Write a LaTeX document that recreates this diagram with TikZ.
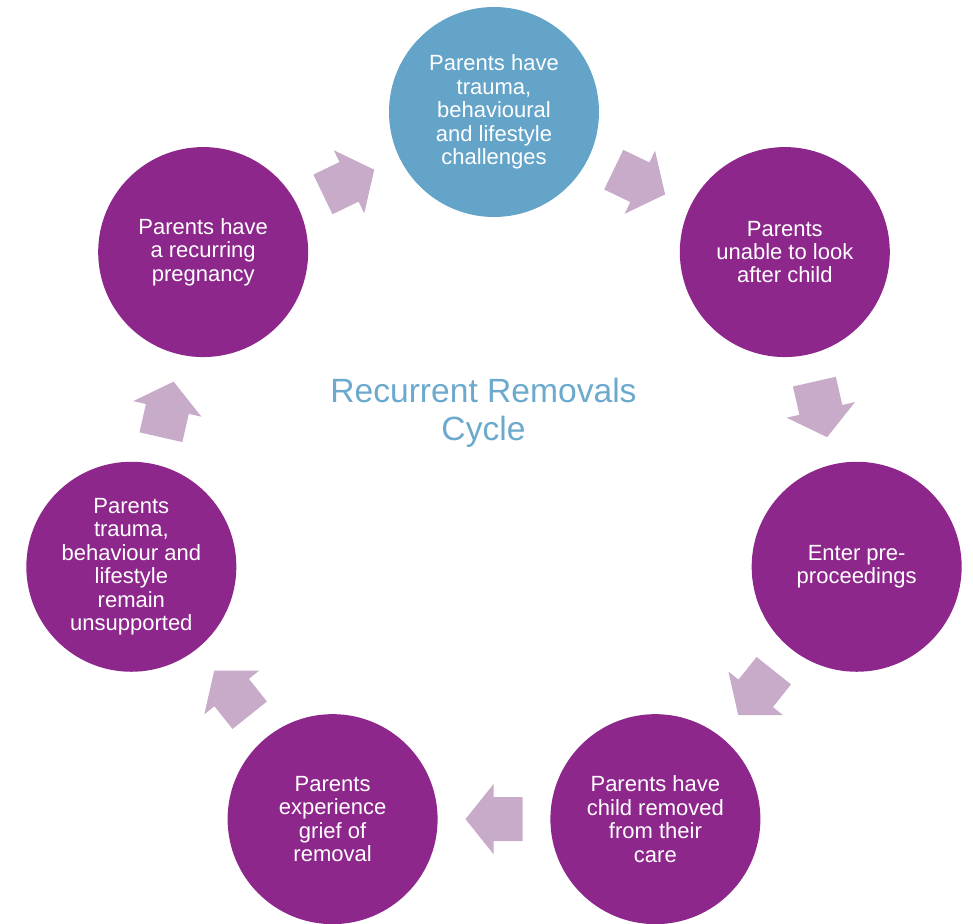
\documentclass[tikz,border=0pt]{standalone}
\usepackage{fontspec}
\setmainfont{Liberation Sans}
\usetikzlibrary{calc}
\definecolor{cpurple}{HTML}{8E278C}
\definecolor{cblue}{HTML}{64A4C9}
\definecolor{carrow}{HTML}{C8ABC9}
\definecolor{ctitle}{HTML}{6BA9CD}
\begin{document}
\begin{tikzpicture}[x=1pt,y=1pt,
  stage/.style={circle, fill=cpurple, minimum size=210pt, inner sep=0pt, text=white,
    align=center, font=\fontsize{22}{23.4}\selectfont},
  flowarrow/.pic={\fill[carrow] (-28.5,22) -- (0.5,22) -- (0.5,35) -- (28.5,0)
    -- (0.5,-35) -- (0.5,-22) -- (-28.5,-22) -- cycle;}]
\useasboundingbox (-494,-439) rectangle (479,484);
\node[stage, fill=cblue] (n0) at (90:372) {Parents have\\trauma,\\behavioural\\and lifestyle\\challenges};
\node[stage] (n1) at (38.571:372) {Parents\\unable to look\\after child};
\node[stage] (n2) at (-12.857:372) {Enter pre-\\proceedings};
\node[stage] (n3) at (-64.286:372) {Parents have\\child removed\\from their\\care};
\node[stage] (n4) at (-115.714:372) {Parents\\experience\\grief of\\removal};
\node[stage] (n5) at (-167.143:372) {Parents\\trauma,\\behaviour and\\lifestyle\\remain\\unsupported};
\node[stage] (n6) at (141.429:372) {Parents have\\a recurring\\pregnancy};
\node[text=ctitle, align=center, font=\fontsize{33.6}{38}\selectfont] (title) at (-10.5,71) {Recurrent Removals\\Cycle};
\pic[rotate=-25.714] at ($(n0)!0.5!(n1)$) {flowarrow};
\pic[rotate=-77.143] at ($(n1)!0.5!(n2)$) {flowarrow};
\pic[rotate=-128.571] at ($(n2)!0.5!(n3)$) {flowarrow};
\pic[rotate=180] at ($(n3)!0.5!(n4)$) {flowarrow};
\pic[rotate=128.571] at ($(n4)!0.5!(n5)$) {flowarrow};
\pic[rotate=77.143] at ($(n5)!0.5!(n6)$) {flowarrow};
\pic[rotate=25.714] at ($(n6)!0.5!(n0)$) {flowarrow};
\end{tikzpicture}
\end{document}
